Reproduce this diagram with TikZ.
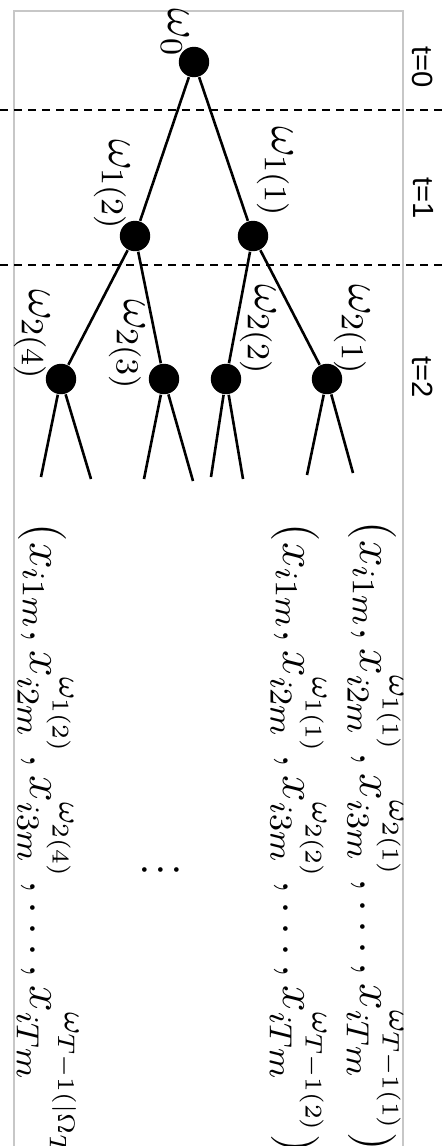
\documentclass[tikz,border=0pt]{standalone}
\usepackage{amsmath}
\usepackage{fontspec}
\newfontfamily\stagefont{Liberation Sans}

\begin{document}
\begin{tikzpicture}[
  x=0.25pt, y=-0.25pt,
  state/.style={circle, fill=black, inner sep=0pt, minimum size=7.6pt},
  branch/.style={line width=0.65pt},
  wlabel/.style={rotate=-90, inner sep=0pt, font=\fontsize{12}{14}\selectfont},
  tlabel/.style={rotate=-90, inner sep=0pt, font=\stagefont\fontsize{7.3}{8}\selectfont},
  scen/.style={rotate=-90, inner sep=0pt, anchor=base west, font=\fontsize{11.6}{14}\selectfont},
  stage/.style={dash pattern=on 2pt off 1.5pt, line width=0.5pt}
]
\useasboundingbox (0,0) rectangle (448,1146);
\draw[black!22, line width=0.4pt] (14,11) rectangle (403,1170);

% time stages
\draw[stage] (0,110) -- (448,110);
\draw[stage] (0,265) -- (448,265);
\node[tlabel] (t0) at (423,67) {t=0};
\node[tlabel] (t1) at (423,198) {t=1};
\node[tlabel] (t2) at (423,377) {t=2};

% scenario tree
\node[state] (w0) at (194,62) {};
\node[state] (w12) at (135,236) {};
\node[state] (w11) at (253,236) {};
\node[state] (w24) at (61,379) {};
\node[state] (w23) at (164,379) {};
\node[state] (w22) at (226,379) {};
\node[state] (w21) at (327,379) {};

\coordinate (e24a) at (41,477);  \coordinate (e24b) at (91,479);
\coordinate (e23a) at (144,479); \coordinate (e23b) at (193,481);
\coordinate (e22a) at (211,477); \coordinate (e22b) at (243,479);
\coordinate (e21a) at (307,475); \coordinate (e21b) at (353,473);

\draw[branch] (w0) -- (w12);
\draw[branch] (w0) -- (w11);
\draw[branch] (w12) -- (w24);
\draw[branch] (w12) -- (w23);
\draw[branch] (w11) -- (w22);
\draw[branch] (w11) -- (w21);
\foreach \n in {24,23,22,21}{
  \draw[branch] (w\n) -- (e\n a);
  \draw[branch] (w\n) -- (e\n b);
}

\node[wlabel] (l0) at (175,33) {$\omega_0$};
\node[wlabel] (l12) at (112,185) {$\omega_{1(2)}$};
\node[wlabel] (l11) at (275,172) {$\omega_{1(1)}$};
\node[wlabel] (l24) at (32,335) {$\omega_{2(4)}$};
\node[wlabel] (l23) at (127,345) {$\omega_{2(3)}$};
\node[wlabel] (l22) at (258,330) {$\omega_{2(2)}$};
\node[wlabel] (l21) at (352,330) {$\omega_{2(1)}$};

% scenario paths
\node[scen] (s1) at (360,521)
  {$(x_{i1m}, x_{i2m}^{\omega_{1(1)}}, x_{i3m}^{\omega_{2(1)}},\dots,x_{iTm}^{\omega_{T-1(1)}})$};
\node[scen] (s2) at (283,523)
  {$(x_{i1m}, x_{i2m}^{\omega_{1(1)}}, x_{i3m}^{\omega_{2(2)}},\dots,x_{iTm}^{\omega_{T-1(2)}})$};
\node[wlabel] (dots) at (173,870) {$\vdots$};
\node[scen] (s3) at (30,523)
  {$(x_{i1m}, x_{i2m}^{\omega_{1(2)}}, x_{i3m}^{\omega_{2(4)}},\dots,x_{iTm}^{\omega_{T-1(|\Omega_{T-1}|)}})$};
\end{tikzpicture}
\end{document}
